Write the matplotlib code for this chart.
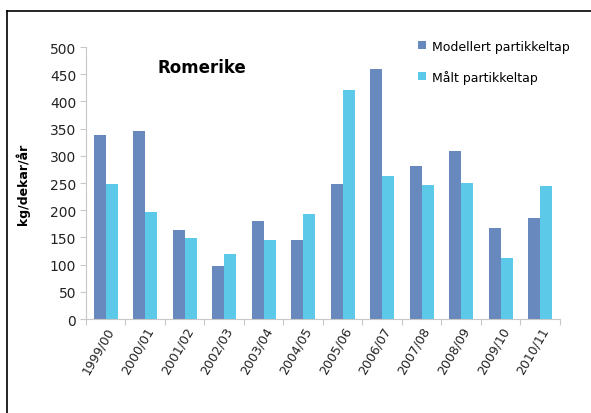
import numpy as np
import matplotlib.pyplot as plt
from matplotlib.lines import Line2D

seasons = ['1999/00', '2000/01', '2001/02', '2002/03', '2003/04', '2004/05',
           '2005/06', '2006/07', '2007/08', '2008/09', '2009/10', '2010/11']
modellert = [338, 346, 164, 98, 180, 146, 249, 459, 281, 309, 167, 186]
maalt = [249, 196, 149, 120, 145, 193, 421, 263, 246, 250, 112, 245]

dark_blue = '#6889bd'
light_blue = '#5cc9e9'

fig = plt.figure(figsize=(5.91, 4.14), dpi=100)
ax = fig.add_axes([0.1455, 0.227, 0.802, 0.657])

x = np.arange(len(seasons))
w = 0.3
ax.bar(x - w / 2, modellert, w, color=dark_blue, label='Modellert partikkeltap')
ax.bar(x + w / 2, maalt, w, color=light_blue, label='Målt partikkeltap')

ax.set_xlim(-0.5, len(seasons) - 0.5)
ax.set_ylim(0, 500)
ax.set_yticks(range(0, 501, 50))
ax.tick_params(axis='y', labelsize=10, length=4, color='#c8c8c8', pad=3,
               labelcolor='#222222')

# ticks between categories, labels at centres
ax.set_xticks(np.arange(-0.5, len(seasons), 1))
ax.set_xticklabels([])
ax.set_xticks(x, minor=True)
ax.set_xticklabels(seasons, minor=True, rotation=60, ha='right',
                   rotation_mode='anchor', fontsize=9, color='#222222')
ax.tick_params(axis='x', which='major', length=4, color='#c8c8c8')
ax.tick_params(axis='x', which='minor', length=0, pad=4)

for side in ['top', 'right']:
    ax.spines[side].set_visible(False)
for side in ['left', 'bottom']:
    ax.spines[side].set_color('#c8c8c8')

ax.set_ylabel('kg/dekar/år', fontsize=9, fontweight='bold', labelpad=14)
ax.text(0.15, 0.925, 'Romerike', transform=ax.transAxes, fontsize=12,
        fontweight='bold', ha='left', va='center')

ax.legend(loc='upper left', bbox_to_anchor=(0.69, 1.045), frameon=False,
          fontsize=9, handlelength=0.6, handleheight=0.6, handletextpad=0.5,
          labelspacing=1.35, borderaxespad=0)

# outer frame, left and top edges only
fig.add_artist(Line2D([7 / 591, 7 / 591], [0, 1 - 12 / 414], color='black', lw=1.2))
fig.add_artist(Line2D([7 / 591, 1], [1 - 12 / 414, 1 - 12 / 414], color='black', lw=1.2))

fig.savefig('out.png', dpi=100)
